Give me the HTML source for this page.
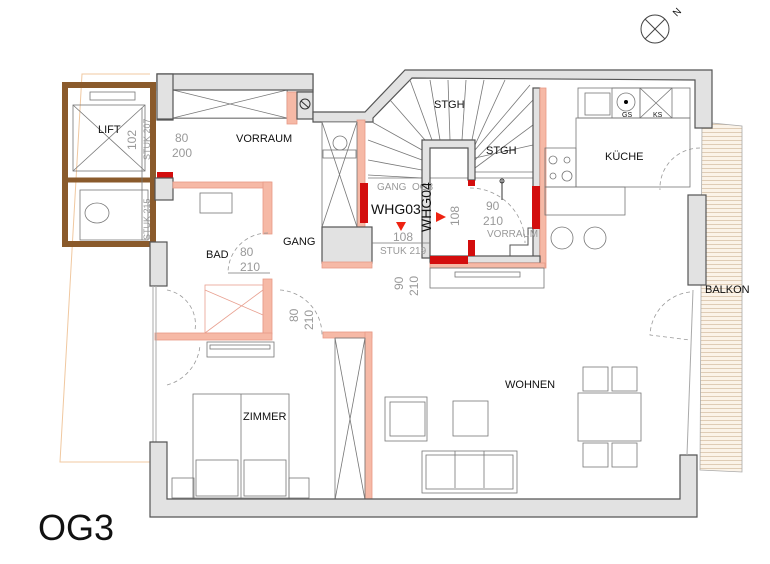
<!DOCTYPE html>
<html><head><meta charset="utf-8"><style>
html,body{margin:0;padding:0;background:#fff;width:770px;height:564px;overflow:hidden}
svg{display:block}
text{font-family:"Liberation Sans",sans-serif;fill:#111}
.g{fill:#e2e2e2;stroke:#555;stroke-width:1.2}
.s{fill:#f6b9a6;stroke:#e89a86;stroke-width:.8}
.r{fill:#d30d0d}
.l{fill:none;stroke:#777;stroke-width:.8}
.d{fill:none;stroke:#999;stroke-width:.8;stroke-dasharray:4 3}
.dim{font-size:12px;fill:#999}
</style></head><body>
<svg width="770" height="564" viewBox="0 0 770 564">
<defs><pattern id="h" width="6" height="4" patternUnits="userSpaceOnUse"><rect width="6" height="4" fill="#fbf3e8"/><line x1="0" y1="0.5" x2="6" y2="0.5" stroke="#d8c3a8" stroke-width=".8"/></pattern></defs>
<!-- outer thin outline left -->
<polyline points="150,74 82,74 60,462 150,462" fill="none" stroke="#f0c8a0" stroke-width="1"/>
<!-- balcony -->
<polygon points="702,122 742,126 742,472 700,470" fill="url(#h)" stroke="#aaa" stroke-width=".8"/>
<!-- lift -->
<rect x="65" y="85" width="88" height="159" fill="none" stroke="#8a5a2b" stroke-width="6"/>
<line x1="65" y1="180" x2="153" y2="180" stroke="#8a5a2b" stroke-width="5"/>
<rect x="73" y="105" width="72" height="66" class="l"/>
<line x1="73" y1="105" x2="145" y2="171" class="l"/><line x1="145" y1="105" x2="73" y2="171" class="l"/>
<rect x="90" y="92" width="45" height="8" class="l"/>
<rect x="80" y="190" width="68" height="50" class="l"/>
<ellipse cx="97" cy="213" rx="12" ry="10" class="l"/>
<text x="98" y="133" font-size="11">LIFT</text>
<!-- top walls -->
<path class="g" d="M157,74 H313 V92 H297 V118 H173 V92 H173 V120 H157 Z"/>
<path class="g" d="M173,90 H287 V118 H173 Z" fill="#fff"/>
<rect x="173" y="90" width="114" height="28" fill="#fff" stroke="#777" stroke-width=".8"/>
<line x1="173" y1="90" x2="287" y2="118" class="l"/><line x1="287" y1="90" x2="173" y2="118" class="l"/>
<rect x="157" y="74" width="156" height="16" class="g"/>
<rect x="157" y="74" width="16" height="45" class="g"/>
<rect x="287" y="92" width="10" height="32" class="s"/>
<rect x="297" y="92" width="16" height="27" class="g"/>
<circle cx="305" cy="104" r="5" fill="none" stroke="#333"/><line x1="301" y1="101" x2="309" y2="108" stroke="#333"/>
<path class="g" d="M313,112 H365 L405,70 H712 V128 H695 V80 L412,78 L373,118 V122 H313 Z"/>
<!-- salmon stair side -->
<rect x="357" y="120" width="8" height="108" class="s"/>
<rect x="360" y="183" width="8" height="40" class="r"/>
<!-- shaft -->
<rect x="322" y="122" width="35" height="105" fill="#fff" stroke="#777" stroke-width=".8"/>
<line x1="322" y1="122" x2="357" y2="227" class="l"/><line x1="357" y1="122" x2="322" y2="227" class="l"/>
<circle cx="340" cy="143" r="7" class="l"/>
<rect x="323" y="150" width="33" height="8" class="l"/>
<rect x="322" y="227" width="50" height="36" class="g"/>
<rect x="322" y="262" width="50" height="6" class="s"/>
<!-- stairs -->
<g class="l">
<line x1="368" y1="160" x2="422" y2="170"/><line x1="368" y1="175" x2="422" y2="178"/><line x1="368" y1="140" x2="422" y2="160"/><line x1="372" y1="122" x2="422" y2="150"/><line x1="390" y1="100" x2="425" y2="140"/><line x1="410" y1="80" x2="432" y2="140"/><line x1="430" y1="80" x2="440" y2="140"/><line x1="448" y1="80" x2="450" y2="140"/><line x1="466" y1="80" x2="462" y2="140"/><line x1="484" y1="80" x2="472" y2="140"/><line x1="505" y1="80" x2="475" y2="145"/><line x1="530" y1="85" x2="475" y2="150"/><line x1="533" y1="100" x2="475" y2="160"/><line x1="533" y1="125" x2="475" y2="168"/><line x1="475" y1="172" x2="533" y2="172"/><line x1="475" y1="158" x2="533" y2="145"/>
<line x1="368" y1="178" x2="533" y2="178"/>
</g>
<path class="g" d="M422,140 H475 V180 H468 V148 H430 V258 H422 Z"/>
<rect x="533" y="88" width="7" height="175" class="g"/>
<rect x="540" y="88" width="6" height="180" class="s"/>
<rect x="430" y="256" width="110" height="7" class="g"/>
<rect x="430" y="263" width="115" height="5" class="s"/>
<rect x="430" y="256" width="38" height="8" class="r"/>
<rect x="468" y="180" width="7" height="6" class="r"/>
<rect x="468" y="240" width="7" height="16" class="r"/>
<rect x="532" y="186" width="8" height="43" class="r"/>
<polyline points="533,228 528,228 528,245 510,245 510,256" fill="none" stroke="#555"/>
<line x1="502" y1="180" x2="502" y2="200" stroke="#333"/><circle cx="502" cy="181" r="2" fill="none" stroke="#333"/>
<text x="434" y="108" font-size="11">STGH</text>
<text x="486" y="154" font-size="11">STGH</text>
<text x="377" y="190" font-size="10" fill="#999" style="fill:#999">GANG&#160;&#160;OG3</text>
<text x="371" y="214" font-size="14">WHG03</text>
<polygon points="396,222 406,222 401,231" fill="#e21"/>
<text x="393" y="241" class="dim">108</text>
<text transform="translate(431,232) rotate(-90)" font-size="14">WHG04</text>
<polygon points="436,212 446,217 436,222" fill="#e21"/>
<text transform="translate(459,226) rotate(-90)" class="dim">108</text>
<text x="486" y="210" class="dim">90</text>
<text x="483" y="225" class="dim">210</text>
<text x="487" y="237" font-size="10" style="fill:#999">VORRAUM</text>
<text x="380" y="254" font-size="10" style="fill:#999">STUK 219</text>
<path class="d" d="M470,188 A55,55 0 0 1 525,243" />
<line x1="372" y1="243" x2="430" y2="243" class="l"/>
<!-- lower stair-landing cabinet -->
<rect x="430" y="268" width="114" height="20" class="l"/>
<rect x="455" y="272" width="65" height="5" class="l"/>
<!-- left walls / bath -->
<rect x="157" y="172" width="16" height="6" class="r"/>
<rect x="155" y="178" width="18" height="22" class="g"/>
<rect x="173" y="182" width="98" height="6" class="s"/>
<rect x="263" y="182" width="9" height="52" class="s"/>
<rect x="200" y="193" width="32" height="20" class="l"/>
<rect x="150" y="242" width="17" height="44" class="g"/>
<path class="d" d="M268,233 A40,40 0 0 0 228,273"/>
<line x1="228" y1="273" x2="270" y2="273" class="l"/>
<rect x="263" y="279" width="9" height="55" class="s"/>
<rect x="205" y="285" width="58" height="48" fill="none" stroke="#e8a090" stroke-width=".8"/>
<line x1="205" y1="290" x2="263" y2="315" stroke="#e8a090" stroke-width=".8"/><line x1="205" y1="333" x2="263" y2="290" stroke="#e8a090" stroke-width=".8"/>
<rect x="155" y="333" width="117" height="7" class="s"/>
<rect x="207" y="342" width="67" height="15" class="l"/>
<rect x="210" y="345" width="60" height="4" class="l"/>
<path class="d" d="M167,290 A35,35 0 0 1 195,330"/>
<path class="d" d="M167,385 A45,45 0 0 0 200,345"/>
<line x1="153" y1="286" x2="153" y2="442" stroke="#aaa"/><line x1="156" y1="286" x2="156" y2="442" stroke="#aaa"/>
<path class="d" d="M280,290 A45,45 0 0 1 322,335"/>
<rect x="323" y="332" width="49" height="6" class="s"/>
<rect x="365" y="332" width="7" height="168" class="s"/>
<rect x="335" y="338" width="30" height="162" class="l"/>
<line x1="335" y1="338" x2="365" y2="500" class="l"/><line x1="365" y1="338" x2="335" y2="500" class="l"/>
<!-- beds -->
<rect x="193" y="394" width="96" height="104" class="l"/>
<line x1="241" y1="394" x2="241" y2="498" class="l"/>
<rect x="196" y="460" width="42" height="36" class="l"/><rect x="244" y="460" width="42" height="36" class="l"/>
<rect x="172" y="478" width="22" height="20" class="l"/><rect x="289" y="478" width="20" height="20" class="l"/>
<!-- lower walls -->
<path class="g" d="M150,442 H167 V499 H680 V455 H697 V517 H150 Z"/>
<!-- right walls -->
<rect x="688" y="195" width="18" height="90" class="g"/>
<path class="d" d="M700,148 A40,40 0 0 0 660,190"/>
<path class="d" d="M690,292 A45,45 0 0 0 650,335 L690,340"/>
<line x1="693" y1="290" x2="687" y2="455" stroke="#aaa"/>
<!-- kitchen -->
<rect x="578" y="88" width="112" height="30" class="l"/>
<rect x="585" y="93" width="25" height="22" class="l"/>
<rect x="612" y="88" width="28" height="30" class="l"/><circle cx="626" cy="102" r="9" class="l"/><circle cx="626" cy="102" r="2" fill="#000"/>
<rect x="640" y="88" width="32" height="30" class="l"/><line x1="640" y1="88" x2="672" y2="118" class="l"/><line x1="672" y1="88" x2="640" y2="118" class="l"/>
<text x="622" y="117" font-size="7">GS</text><text x="653" y="117" font-size="7">KS</text>
<rect x="576" y="118" width="114" height="69" class="l"/>
<rect x="545" y="148" width="31" height="39" class="l"/>
<circle cx="553" cy="160" r="4" class="l"/><circle cx="567" cy="160" r="3" class="l"/><circle cx="553" cy="176" r="3" class="l"/><circle cx="567" cy="176" r="5" class="l"/>
<rect x="545" y="187" width="80" height="28" class="l"/>
<circle cx="562" cy="238" r="11" class="l"/><circle cx="595" cy="238" r="11" class="l"/>
<!-- living -->
<rect x="385" y="397" width="42" height="44" class="l"/><rect x="390" y="402" width="35" height="34" class="l"/>
<rect x="453" y="401" width="35" height="35" class="l"/>
<rect x="422" y="451" width="95" height="42" class="l"/><rect x="426" y="455" width="87" height="34" class="l"/>
<line x1="455" y1="451" x2="455" y2="488" class="l"/><line x1="484" y1="451" x2="484" y2="488" class="l"/>
<rect x="578" y="393" width="63" height="48" class="l"/>
<rect x="583" y="367" width="25" height="24" class="l"/><rect x="612" y="367" width="25" height="24" class="l"/>
<rect x="583" y="443" width="25" height="24" class="l"/><rect x="612" y="443" width="25" height="24" class="l"/>
<!-- labels -->
<text x="236" y="142" font-size="11">VORRAUM</text>
<text x="283" y="245" font-size="11">GANG</text>
<text x="206" y="258" font-size="11">BAD</text>
<text x="243" y="420" font-size="11">ZIMMER</text>
<text x="505" y="388" font-size="11">WOHNEN</text>
<text x="605" y="160" font-size="11">KÜCHE</text>
<text x="705" y="293" font-size="11">BALKON</text>
<text x="175" y="142" class="dim">80</text><text x="172" y="157" class="dim">200</text>
<text x="240" y="256" class="dim">80</text><text x="240" y="271" class="dim">210</text>
<text transform="translate(298,322) rotate(-90)" class="dim">80</text>
<text transform="translate(313,330) rotate(-90)" class="dim">210</text>
<text transform="translate(403,290) rotate(-90)" class="dim">90</text>
<text transform="translate(418,296) rotate(-90)" class="dim">210</text>
<text transform="translate(136,150) rotate(-90)" class="dim">102</text>
<text transform="translate(150,160) rotate(-90)" font-size="9" style="fill:#999">STUK 207</text>
<text transform="translate(150,240) rotate(-90)" font-size="9" style="fill:#999">STUK 215</text>
<line x1="142" y1="108" x2="142" y2="240" class="l"/>
<!-- compass -->
<circle cx="655" cy="29" r="14" fill="none" stroke="#444"/>
<line x1="645" y1="19" x2="665" y2="39" stroke="#444"/><line x1="665" y1="19" x2="645" y2="39" stroke="#444"/>
<text x="673" y="16" font-size="10" transform="rotate(-45 676 12)">N</text>
<text x="38" y="540" font-size="36">OG3</text>
</svg>
</body></html>
